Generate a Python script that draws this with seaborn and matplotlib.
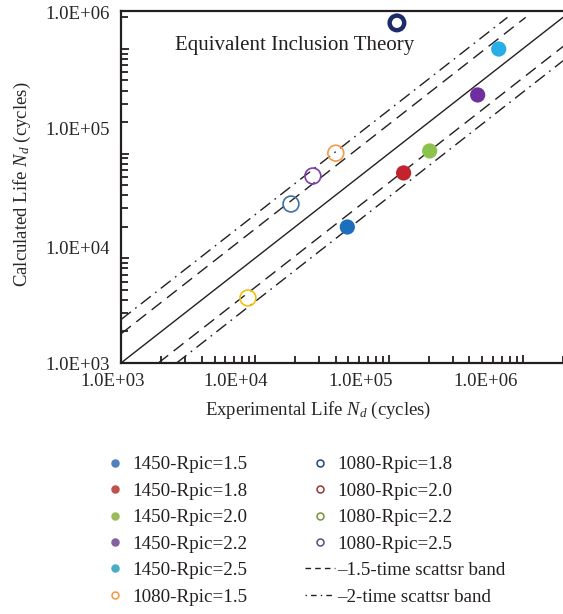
import numpy as np
import pandas as pd
import seaborn as sns
import matplotlib
matplotlib.use("Agg")
import matplotlib.pyplot as plt
from matplotlib.lines import Line2D
from matplotlib.ticker import FixedLocator, LogLocator, NullFormatter
from matplotlib.transforms import ScaledTranslation

# ---------------- data ----------------
series_1450 = ["1450-Rpic=1.5", "1450-Rpic=1.8", "1450-Rpic=2.0", "1450-Rpic=2.2", "1450-Rpic=2.5"]
exp_1450 = [4.9e4, 1.29e5, 2.02e5, 4.61e5, 6.62e5]
calc_1450 = [1.99e4, 6.53e4, 1.06e5, 3.63e5, 9.97e5]
colors_1450 = ["#1b6fbd", "#c3232d", "#8cc34e", "#6f2f9e", "#27aee6"]

series_1080 = ["1080-Rpic=1.5", "1080-Rpic=1.5b", "1080-Rpic=1.8", "1080-Rpic=2.5"]
exp_1080 = [4.02e4, 8.87e3, 1.86e4, 2.71e4]
calc_1080 = [1.01e5, 4.18e3, 3.30e4, 6.11e4]
colors_1080 = ["#f59a45", "#f3bf12", "#3f70a8", "#7b3fa9"]

series_out = ["1080-Rpic=1.8 (outlier)"]
exp_out = [1.15e5]
calc_out = [1.77e6]
colors_out = ["#1c2c66"]

band_dashed = 1.9   # "1.5-time scatter band" as drawn
band_dashdot = 2.6  # "2-time scatter band" as drawn

legend_labels = ["1450-Rpic=1.5", "1450-Rpic=1.8", "1450-Rpic=2.0", "1450-Rpic=2.2",
                 "1450-Rpic=2.5", "1080-Rpic=1.5", "1080-Rpic=1.8", "1080-Rpic=2.0",
                 "1080-Rpic=2.2", "1080-Rpic=2.5"]
legend_colors = ["#4f81bd", "#c0504d", "#9bbb59", "#8064a2", "#4bacc6",
                 "#f79646", "#1f497d", "#943634", "#76923c", "#5f497a"]
legend_filled = [True] * 5 + [False] * 5
band_labels = ["–1.5-time scattsr band", "–2-time scattsr band"]

xlim = (1e3, 2e6)
ylim = (1e3, 2.3e6)
tick_vals = [1e3, 1e4, 1e5, 1e6]
tick_text = ["1.0E+03", "1.0E+04", "1.0E+05", "1.0E+06"]

# ---------------- style ----------------
sns.set_style("ticks")
plt.rcParams["font.family"] = ["Liberation Serif", "DejaVu Serif"]
plt.rcParams["mathtext.fontset"] = "custom"
plt.rcParams["mathtext.it"] = "Liberation Serif:italic"
plt.rcParams["mathtext.rm"] = "Liberation Serif"
plt.rcParams["text.color"] = "#231f20"

fig = plt.figure(figsize=(5.63, 6.14), dpi=100)
ax = fig.add_axes([121 / 563, 1 - 363 / 614, 442 / 563, 352 / 614])

df1 = pd.DataFrame({"exp": exp_1450, "calc": calc_1450, "s": series_1450})
df2 = pd.DataFrame({"exp": exp_1080, "calc": calc_1080, "s": series_1080})
df3 = pd.DataFrame({"exp": exp_out, "calc": calc_out, "s": series_out})

# reference lines
xl = np.array(xlim)
ax.plot(xl, xl, color="#231f20", lw=1.0, zorder=1)
ax.plot([xlim[0], xlim[1] / band_dashed], [xlim[0] * band_dashed, xlim[1]],
        color="#231f20", lw=1.0, ls=(0, (9, 5)), zorder=1)
ax.plot([xlim[0] * band_dashed, xlim[1]], [xlim[0], xlim[1] / band_dashed],
        color="#231f20", lw=1.0, ls=(0, (9, 5)), zorder=1)
ax.plot([xlim[0], xlim[1] / band_dashdot], [xlim[0] * band_dashdot, xlim[1]],
        color="#231f20", lw=1.0, ls=(0, (9, 4, 1.2, 4)), zorder=1)
ax.plot([xlim[0] * band_dashdot, xlim[1]], [xlim[0], xlim[1] / band_dashdot],
        color="#231f20", lw=1.0, ls=(0, (9, 4, 1.2, 4)), zorder=1)

sns.scatterplot(data=df1, x="exp", y="calc", hue="s",
                palette=dict(zip(series_1450, colors_1450)), s=120,
                linewidth=0, legend=False, ax=ax, zorder=3)
sns.scatterplot(data=df2, x="exp", y="calc", hue="s",
                palette=dict(zip(series_1080, colors_1080)), s=130,
                linewidth=1.2, legend=False, ax=ax, zorder=3)
coll = ax.collections[-1]
coll.set_edgecolors(coll.get_facecolors())
coll.set_facecolors("none")
sns.scatterplot(data=df3, x="exp", y="calc", hue="s",
                palette=dict(zip(series_out, colors_out)), s=110,
                linewidth=3.2, legend=False, ax=ax, zorder=3)
coll = ax.collections[-1]
coll.set_edgecolors(coll.get_facecolors())
coll.set_facecolors("none")

ax.set_xscale("log")
ax.set_yscale("log")
ax.set_xlim(*xlim)
ax.set_ylim(*ylim)

for axis in (ax.xaxis, ax.yaxis):
    axis.set_major_locator(FixedLocator(tick_vals))
    axis.set_minor_locator(LogLocator(base=10, subs=np.arange(2, 10)))
    axis.set_minor_formatter(NullFormatter())
ax.set_xticks(tick_vals, tick_text)
ax.set_yticks(tick_vals, tick_text)
ax.tick_params(which="both", direction="in", width=1.3, color="#231f20",
               top=False, right=False)
ax.tick_params(which="major", length=6, labelsize=13.5)
ax.tick_params(which="minor", length=5)
ax.tick_params(axis="x", which="major", pad=7)
ax.tick_params(axis="y", which="major", pad=8)

for side in ("left", "bottom", "top"):
    ax.spines[side].set_linewidth(1.6)
    ax.spines[side].set_color("#231f20")
ax.spines["right"].set_visible(False)

ax.set_xlabel("Experimental Life $N_d$ (cycles)", fontsize=13.5)
ax.set_ylabel("Calculated Life $N_d$ (cycles)", fontsize=13.5)
ax.xaxis.set_label_coords(0.446, -0.105)
ax.yaxis.set_label_coords(-0.2, 0.508)

ax.text(0.122, 0.903, "Equivalent Inclusion Theory", transform=ax.transAxes,
        ha="left", va="center", fontsize=15)

# tick labels shifted as in the reference
fig.canvas.draw()
x_shift = [-8, -19, -28, -37]
y_shift = [0, 11, 25, 36]
for t, dx in zip(ax.xaxis.get_major_ticks(), x_shift):
    t.label1.set_transform(t.label1.get_transform() +
                           ScaledTranslation(dx / 100, 0, fig.dpi_scale_trans))
for t, dy in zip(ax.yaxis.get_major_ticks(), y_shift):
    t.label1.set_transform(t.label1.get_transform() +
                           ScaledTranslation(0, dy / 100, fig.dpi_scale_trans))

# legend
handles = []
for lab, col, filled in zip(legend_labels, legend_colors, legend_filled):
    handles.append(Line2D([], [], ls="none", marker="o", markersize=5,
                          markerfacecolor=col if filled else "white",
                          markeredgecolor=col, markeredgewidth=1.1, label=lab))
handles.append(Line2D([], [], color="#231f20", lw=1.0, ls=(0, (4, 3)), label=band_labels[0]))
handles.append(Line2D([], [], color="#231f20", lw=1.0, ls=(0, (1, 3, 4, 3)), label=band_labels[1]))

fig.legend(handles=handles, ncol=2, loc="upper left",
           bbox_to_anchor=(100 / 563, 1 - 456 / 614), frameon=False,
           fontsize=13.7, borderpad=0, borderaxespad=0, handlelength=1.6,
           handletextpad=0.1, columnspacing=3.0, labelspacing=0.48)

fig.savefig("out.png", dpi=100)
